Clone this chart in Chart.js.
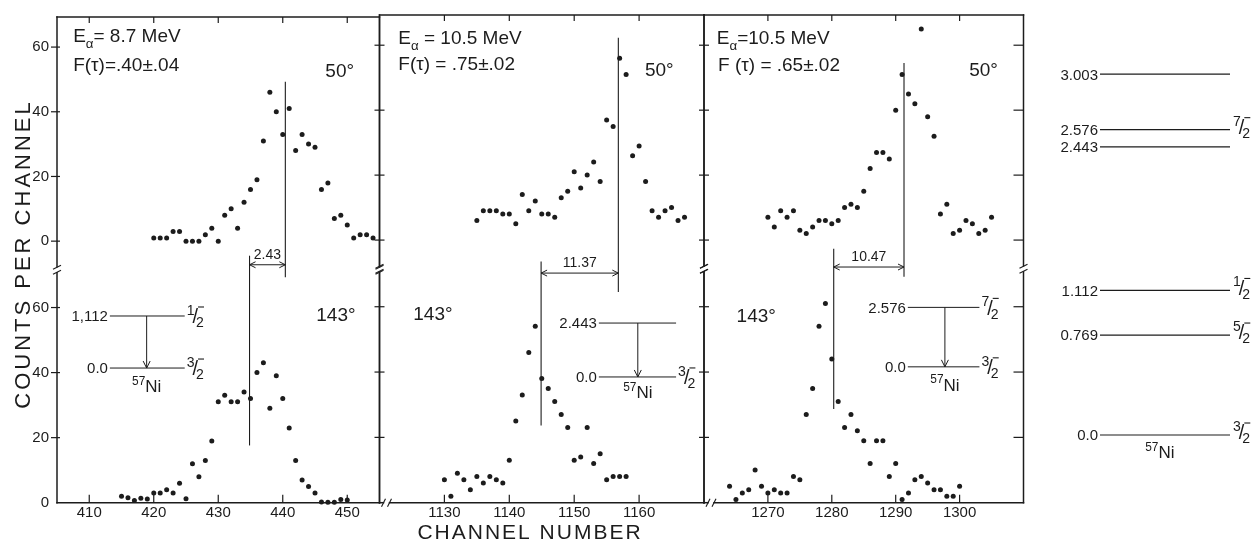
<!DOCTYPE html>
<html><head><meta charset="utf-8"><title>57Ni gamma-ray line shapes</title>
<script src="https://cdn.jsdelivr.net/npm/chart.js@4.4.1/dist/chart.umd.min.js"></script>
<style>
html,body{margin:0;padding:0;background:#fff}
#wrap{position:relative;width:1257px;height:542px;overflow:hidden;background:#fff}
canvas{position:absolute;top:0}
</style></head>
<body><div id="wrap">
<canvas id="p1" width="392" height="542" style="left:0px"></canvas>
<canvas id="p2" width="348" height="542" style="left:368px"></canvas>
<canvas id="p3" width="344" height="542" style="left:692px"></canvas>
<canvas id="lv" width="221" height="542" style="left:1036px"></canvas>
</div>
<script>
// ---------------- data ----------------
const p1UpperChannels = [420,421,422,423,424,425,426,427,428,429,430,431,432,433,434,435,436,437,438,439,440,441,442,443,444,445,446,447,448,449,450,451,452,453,454];
const p1UpperCounts   = [1,1,1,3,3,0,0,0,2,4,0,8,10,4,12,16,19,31,46,40,33,41,28,33,30,29,16,18,7,8,5,1,2,2,1];
const p1LowerChannels = [415,416,417,418,419,420,421,422,423,424,425,426,427,428,429,430,431,432,433,434,435,436,437,438,439,440,441,442,443,444,445,446,447,448,449,450];
const p1LowerCounts   = [2,1.5,0.7,1.4,1.1,3,3,4,3,6,1.2,12,8,13,19,31,33,31,31,34,32,40,43,29,39,32,23,13,7,5,3,0.2,0.1,0.1,1,0.8];

const p2UpperChannels = [1135,1136,1137,1138,1139,1140,1141,1142,1143,1144,1145,1146,1147,1148,1149,1150,1151,1152,1153,1154,1155,1156,1157,1158,1159,1160,1161,1162,1163,1164,1165,1166,1167];
const p2UpperCounts   = [6,9,9,9,8,8,5,14,9,12,8,8,7,13,15,21,16,20,24,18,37,35,56,51,26,29,18,9,7,9,10,6,7];
const p2LowerChannels = [1130,1131,1132,1133,1134,1135,1136,1137,1138,1139,1140,1141,1142,1143,1144,1145,1146,1147,1148,1149,1150,1151,1152,1153,1154,1155,1156,1157,1158];
const p2LowerCounts   = [7,2,9,7,4,8,6,8,7,6,13,25,33,46,54,38,35,31,27,23,13,14,23,12,15,7,8,8,8];

const p3UpperChannels = [1270,1271,1272,1273,1274,1275,1276,1277,1278,1279,1280,1281,1282,1283,1284,1285,1286,1287,1288,1289,1290,1291,1292,1293,1294,1295,1296,1297,1298,1299,1300,1301,1302,1303,1304,1305];
const p3UpperCounts   = [7,4,9,7,9,3,2,4,6,6,5,6,10,11,10,15,22,27,27,25,40,51,45,42,65,38,32,8,11,2,3,6,5,2,3,7];
const p3LowerChannels = [1264,1265,1266,1267,1268,1269,1270,1271,1272,1273,1274,1275,1276,1277,1278,1279,1280,1281,1282,1283,1284,1285,1286,1287,1288,1289,1290,1291,1292,1293,1294,1295,1296,1297,1298,1299,1300];
const p3LowerCounts   = [5,1,3,4,10,5,3,4,3,3,8,7,27,35,54,61,44,31,23,27,22,19,12,19,19,8,12,1,3,7,8,6,4,4,2,2,5];

const p1XTicks = [410,420,430,440,450];
const p2XTicks = [1130,1140,1150,1160];
const p3XTicks = [1270,1280,1290,1300];
const countTicks = [0,20,40,60];

const levelEnergies = [0.0, 0.769, 1.112, 2.443, 2.576, 3.003];
const levelLabels   = ['0.0','0.769','1.112','2.443','2.576','3.003'];
const levelSpins    = ['3/2-','5/2-','1/2-','','7/2-',''];

// ---------------- styling helpers ----------------
const FONT = '"Liberation Sans", Arial, sans-serif';
const INK = '#1c1c1c';
function setFont(ctx, size) { ctx.font = size + 'px ' + FONT; }

function drawRich(ctx, parts, x, y, size, align) {
  const small = size * 0.7;
  const widths = parts.map(p => { setFont(ctx, p[1] ? small : size); return ctx.measureText(p[0]).width; });
  const total = widths.reduce((s, w) => s + w, 0);
  let cx = align === 'center' ? x - total / 2 : (align === 'right' ? x - total : x);
  ctx.textAlign = 'left'; ctx.textBaseline = 'alphabetic';
  const base = y + size * 0.36;
  parts.forEach((p, i) => {
    setFont(ctx, p[1] ? small : size);
    const dy = p[1] === 'sub' ? size * 0.3 : (p[1] === 'sup' ? -size * 0.42 : 0);
    ctx.fillText(p[0], cx, base + dy);
    cx += widths[i];
  });
}

function drawSpin(ctx, spin, x, y, size) {
  if (!spin) return;
  const m = spin.match(/^(\d+)\/(\d+)(-?)$/);
  const small = size * 0.78;
  ctx.textAlign = 'left'; ctx.textBaseline = 'alphabetic';
  setFont(ctx, small);
  const wn = ctx.measureText(m[1]).width;
  ctx.fillText(m[1], x, y - 1);
  setFont(ctx, size * 1.1);
  const ws = ctx.measureText('/').width;
  ctx.fillText('/', x + wn - 2, y + size * 0.4);
  setFont(ctx, small);
  ctx.fillText(m[2], x + wn + ws - 4, y + size * 0.62);
  if (m[3]) {
    const mx = x + wn + ws - 2;
    ctx.lineWidth = 1.1; ctx.beginPath(); ctx.moveTo(mx, y - size * 0.5); ctx.lineTo(mx + 6, y - size * 0.5); ctx.stroke();
  }
}

function seg(ctx, x1, y1, x2, y2, w) {
  ctx.lineWidth = w || 1.5; ctx.beginPath(); ctx.moveTo(x1, y1); ctx.lineTo(x2, y2); ctx.stroke();
}

// ---------------- panel layout / annotations ----------------
const panels = [
  { id: 'p1', xMin: 405, xMax: 455, xTicks: p1XTicks,
    upper: [p1UpperChannels, p1UpperCounts], lower: [p1LowerChannels, p1LowerCounts],
    padL: 0, padR: 12.5, yAxisWidth: 57, showYLabels: true, leftTicks: [6, 3], rightTicks: null, xBreak: false,
    markers: [{ x: 434.85, top: ['yU', -4.5], bot: ['yL', 17.6] }, { x: 440.4, top: ['yU', 49.3], bot: ['yL', 69.3] }],
    dim: { x1: 434.85, x2: 440.4, at: ['yU', -7.3], label: '2.43' },
    inset: { x1: 413.2, x2: 424.8, top: 57.4, bot: 41.4, arrowX: 418.9, topLabel: '1,112', botLabel: '0.0', topSpin: '1/2-', botSpin: '3/2-', nuc: 36 },
    texts: [
      { parts: [['E'], ['α', 'sub'], ['= 8.7 MeV']], x: 407.5, y: ['yU', 63.6] },
      { parts: [['F(τ)=.40±.04']], x: 407.5, y: ['yU', 54.7] },
      { parts: [['50°']], x: 446.6, y: ['yU', 52.8] },
      { parts: [['143°']], x: 445.2, y: ['yL', 57.9] }
    ] },
  { id: 'p2', xMin: 1120, xMax: 1170, xTicks: p2XTicks,
    upper: [p2UpperChannels, p2UpperCounts], lower: [p2LowerChannels, p2LowerCounts],
    padL: 11.5, padR: 12, yAxisWidth: 0, showYLabels: false, leftTicks: [5, 5], rightTicks: null, xBreak: true,
    markers: [{ x: 1144.9, top: ['yU', -6.6], bot: ['yL', 23.6] }, { x: 1156.8, top: ['yU', 62.3], bot: ['yL', 64.5] }],
    dim: { x1: 1144.9, x2: 1156.8, at: ['yL', 70.3], label: '11.37' },
    inset: { x1: 1153.8, x2: 1165.7, top: 55.0, bot: 38.5, arrowX: 1159.8, topLabel: '2.443', botLabel: '0.0', topSpin: '', botSpin: '3/2-', nuc: 33.8 },
    texts: [
      { parts: [['E'], ['α', 'sub'], [' = 10.5 MeV']], x: 1122.9, y: ['yU', 62.4] },
      { parts: [['F(τ) = .75±.02']], x: 1122.9, y: ['yU', 54.5] },
      { parts: [['50°']], x: 1160.9, y: ['yU', 52.5] },
      { parts: [['143°']], x: 1125.2, y: ['yL', 57.9] }
    ],
    xTitle: true },
  { id: 'p3', xMin: 1260, xMax: 1310, xTicks: p3XTicks,
    upper: [p3UpperChannels, p3UpperCounts], lower: [p3LowerChannels, p3LowerCounts],
    padL: 12, padR: 12.5, yAxisWidth: 0, showYLabels: false, leftTicks: [5, 5], rightTicks: [0, 10], xBreak: true,
    markers: [{ x: 1280.3, top: ['yU', -2.7], bot: ['yL', 28.7] }, { x: 1291.3, top: ['yU', 54.5], bot: ['yL', 69.2] }],
    dim: { x1: 1280.3, x2: 1291.3, at: ['yU', -8.3], label: '10.47' },
    inset: { x1: 1291.9, x2: 1303.1, top: 59.8, bot: 41.6, arrowX: 1297.7, topLabel: '2.576', botLabel: '0.0', topSpin: '7/2-', botSpin: '3/2-', nuc: 36.2 },
    texts: [
      { parts: [['E'], ['α', 'sub'], ['=10.5 MeV']], x: 1262, y: ['yU', 62.4] },
      { parts: [['F (τ) = .65±.02']], x: 1262.2, y: ['yU', 54.2] },
      { parts: [['50°']], x: 1301.5, y: ['yU', 52.5] },
      { parts: [['143°']], x: 1265.1, y: ['yL', 57.4] }
    ] }
];

function drawPanel(ch, cfg) {
  const { ctx, chartArea: a, scales: S } = ch;
  const P = (ref) => S[ref[0]].getPixelForValue(ref[1]);
  const X = (v) => S.x.getPixelForValue(v);
  const brk = S.yU.bottom;
  ctx.save();
  ctx.strokeStyle = INK; ctx.fillStyle = INK; ctx.lineCap = 'square';
  // frame
  seg(ctx, a.left, a.top, a.right, a.top);
  if (cfg.xBreak) {
    const bx = a.left + 7;
    seg(ctx, a.left, a.bottom, bx - 3, a.bottom); seg(ctx, bx + 3, a.bottom, a.right, a.bottom);
    ctx.lineCap = 'butt';
    seg(ctx, bx - 5, a.bottom + 4, bx - 1, a.bottom - 4, 1.1); seg(ctx, bx + 1, a.bottom + 4, bx + 5, a.bottom - 4, 1.1);
    ctx.lineCap = 'square';
  } else seg(ctx, a.left, a.bottom, a.right, a.bottom);
  [a.left, a.right].forEach(xx => {
    ctx.lineCap = 'square';
    seg(ctx, xx, a.top, xx, brk - 3); seg(ctx, xx, brk + 3, xx, a.bottom);
    ctx.lineCap = 'butt';
    seg(ctx, xx - 4, brk - 0.5, xx + 4, brk - 4.5, 1.1); seg(ctx, xx - 4, brk + 4.5, xx + 4, brk + 0.5, 1.1);
  });
  ctx.lineCap = 'butt';
  // x ticks (inward, top and bottom)
  cfg.xTicks.forEach(v => { const px = X(v); seg(ctx, px, a.bottom, px, a.bottom - 8, 1.2); seg(ctx, px, a.top, px, a.top + 6, 1.2); });
  // y ticks
  const yPix = countTicks.map(v => S.yU.getPixelForValue(v)).concat(countTicks.filter(v => v > 0).map(v => S.yL.getPixelForValue(v)));
  yPix.forEach(py => {
    if (cfg.leftTicks) seg(ctx, a.left - cfg.leftTicks[0], py, a.left + cfg.leftTicks[1], py, 1.2);
    if (cfg.rightTicks) seg(ctx, a.right - cfg.rightTicks[1], py, a.right + cfg.rightTicks[0], py, 1.2);
  });
  // peak-position markers
  cfg.markers.forEach(m => seg(ctx, X(m.x), P(m.top), X(m.x), P(m.bot), 1.1));
  // dimension arrow
  const d = cfg.dim, dx1 = X(d.x1), dx2 = X(d.x2), dy = P(d.at);
  seg(ctx, dx1, dy, dx2, dy, 1);
  ctx.beginPath(); ctx.lineWidth = 1;
  ctx.moveTo(dx1 + 6, dy - 3); ctx.lineTo(dx1, dy); ctx.lineTo(dx1 + 6, dy + 3);
  ctx.moveTo(dx2 - 6, dy - 3); ctx.lineTo(dx2, dy); ctx.lineTo(dx2 - 6, dy + 3); ctx.stroke();
  drawRich(ctx, [[d.label]], (dx1 + dx2) / 2, dy - 11, 14, 'center');
  // level-scheme inset
  const s = cfg.inset, ix1 = X(s.x1), ix2 = X(s.x2), it = S.yL.getPixelForValue(s.top), ib = S.yL.getPixelForValue(s.bot), ax = X(s.arrowX);
  seg(ctx, ix1, it, ix2, it, 1); seg(ctx, ix1, ib, ix2, ib, 1); seg(ctx, ax, it, ax, ib, 1);
  ctx.beginPath(); ctx.lineWidth = 1; ctx.moveTo(ax - 3.5, ib - 7); ctx.lineTo(ax, ib); ctx.lineTo(ax + 3.5, ib - 7); ctx.stroke();
  drawRich(ctx, [[s.topLabel]], ix1 - 2, it, 15, 'right');
  drawRich(ctx, [[s.botLabel]], ix1 - 2, ib, 15, 'right');
  drawSpin(ctx, s.topSpin, ix2 + 2, it, 18);
  drawSpin(ctx, s.botSpin, ix2 + 2, ib, 18);
  drawRich(ctx, [['57', 'sup'], ['Ni']], ax, S.yL.getPixelForValue(s.nuc), 17, 'center');
  // texts
  cfg.texts.forEach(t => drawRich(ctx, t.parts, X(t.x), P(t.y), 19, 'left'));
  // axis titles
  ctx.letterSpacing = '2px';
  if (cfg.id === 'p1') {
    ctx.save(); ctx.translate(22, 254); ctx.rotate(-Math.PI / 2);
    ctx.letterSpacing = '3px';
    drawRich(ctx, [['COUNTS PER CHANNEL']], 0, 0, 22, 'center');
    ctx.restore();
  }
  if (cfg.xTitle) drawRich(ctx, [['CHANNEL NUMBER']], a.left + 150.5, 531, 21, 'center');
  ctx.letterSpacing = '0px';
  ctx.restore();
}

function makePanel(cfg) {
  const mk = (pair, yId, name) => ({
    label: name,
    data: pair[0].map((c, i) => ({ x: c, y: pair[1][i] })),
    xAxisID: 'x', yAxisID: yId,
    pointRadius: 2.5, pointHoverRadius: 2.5, pointBackgroundColor: INK, pointBorderWidth: 0,
    showLine: false, clip: 6
  });
  const yScale = (weight, stackWeight, min, max) => ({
    type: 'linear', position: 'left', stack: 'counts', stackWeight, weight, min, max, offset: false,
    grid: { display: false, drawTicks: false }, border: { display: false },
    ticks: { display: cfg.showYLabels, color: INK, font: { family: FONT, size: 15 }, padding: 8, callback: v => String(v) },
    afterBuildTicks: sc => { sc.ticks = countTicks.map(v => ({ value: v })); },
    afterFit: sc => { sc.width = cfg.yAxisWidth; }
  });
  new Chart(document.getElementById(cfg.id), {
    type: 'scatter',
    data: { datasets: [mk(cfg.upper, 'yU', '50°'), mk(cfg.lower, 'yL', '143°')] },
    options: {
      responsive: false, animation: false, events: [],
      layout: { padding: { left: cfg.padL, right: cfg.padR, top: 15, bottom: 0 } },
      plugins: { legend: { display: false }, tooltip: { enabled: false } },
      scales: {
        x: { type: 'linear', position: 'bottom', min: cfg.xMin, max: cfg.xMax,
             grid: { display: false, drawTicks: false }, border: { display: false },
             ticks: { color: INK, font: { family: FONT, size: 15 }, padding: 1, maxRotation: 0, autoSkip: false, callback: v => String(v) },
             afterBuildTicks: sc => { sc.ticks = cfg.xTicks.map(v => ({ value: v })); },
             afterFit: sc => { sc.height = 39.3; } },
        yU: yScale(2, 254, -8.86, 69.3),
        yL: yScale(1, 234, 0, 71.6)
      }
    },
    plugins: [{ id: 'decor', afterDraw: ch => drawPanel(ch, cfg) }]
  });
}
panels.forEach(makePanel);

// ---------------- level diagram ----------------
function drawLevels(ch) {
  const { ctx, chartArea: a, scales: S } = ch;
  ctx.save(); ctx.fillStyle = INK; ctx.strokeStyle = INK;
  levelEnergies.forEach((E, i) => {
    const sc = E > 1.5 ? S.yHi : S.yLo;
    const py = sc.getPixelForValue(E);
    drawRich(ctx, [[levelLabels[i]]], a.left - 2, py, 15, 'right');
    drawSpin(ctx, levelSpins[i], a.right + 3, py - 3, 18);
  });
  drawRich(ctx, [['57', 'sup'], ['Ni']], S.x.getPixelForValue(0.46), S.yLo.getPixelForValue(-0.13), 17, 'center');
  ctx.restore();
}
const lvScale = (weight, stackWeight, min, max) => ({
  type: 'linear', position: 'left', stack: 'lv', stackWeight, weight, min, max, offset: false,
  grid: { display: false, drawTicks: false }, border: { display: false }, ticks: { display: false },
  afterFit: sc => { sc.width = 0; }
});
new Chart(document.getElementById('lv'), {
  type: 'line',
  data: { datasets: levelEnergies.map((E, i) => ({
    label: levelLabels[i],
    data: [{ x: 0, y: E }, { x: 1, y: E }],
    yAxisID: E > 1.5 ? 'yHi' : 'yLo',
    borderColor: INK, borderWidth: 1.2, pointRadius: 0, fill: false
  })) },
  options: {
    responsive: false, animation: false, events: [],
    layout: { padding: { left: 64, right: 27, top: 15, bottom: 39 } },
    plugins: { legend: { display: false }, tooltip: { enabled: false } },
    scales: {
      x: { type: 'linear', min: 0, max: 1, display: false },
      yHi: lvScale(2, 205, 1.881, 3.458),
      yLo: lvScale(1, 283, -0.523, 1.654)
    }
  },
  plugins: [{ id: 'levels', afterDraw: drawLevels }]
});
</script>
</body></html>
